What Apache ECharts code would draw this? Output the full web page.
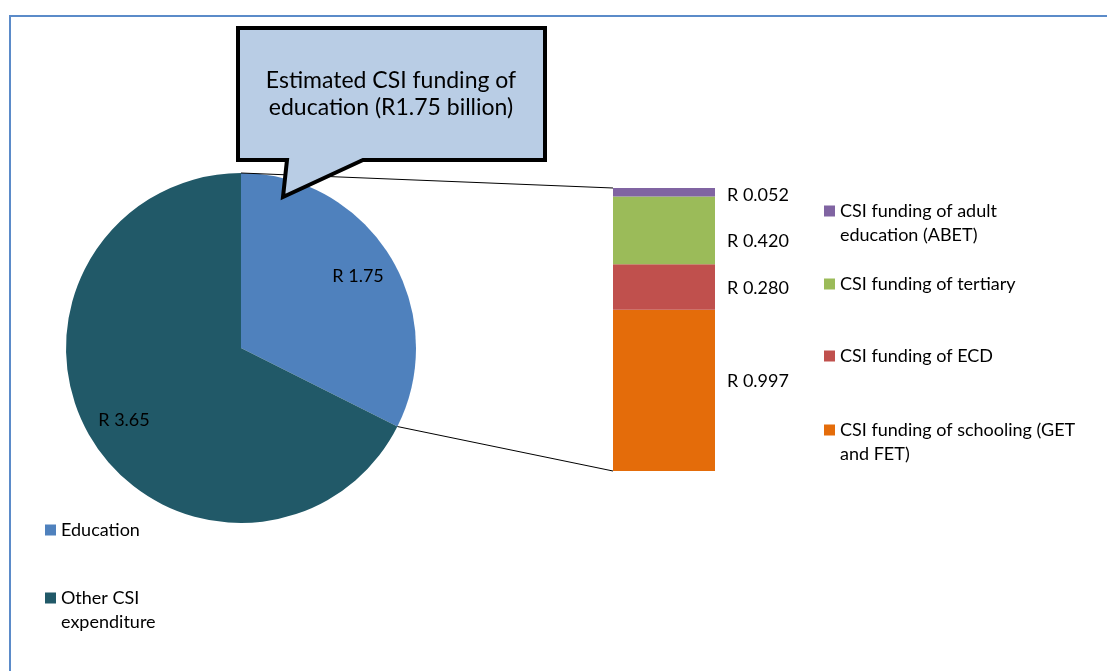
<!DOCTYPE html>
<html><head><meta charset="utf-8">
<script src="https://cdn.jsdelivr.net/npm/echarts@6/dist/echarts.min.js"></script>
<style>html,body{margin:0;padding:0;background:#fff}#c{width:1107px;height:671px}</style>
</head><body><div id="c"></div>
<script>
// ---- data ----
const pieNames = ['Education', 'Other CSI\nexpenditure'];
const pieValues = [1.75, 3.65];
const barCategory = ['Education'];
const barNames = ['CSI funding of schooling (GET\nand FET)', 'CSI funding of ECD', 'CSI funding of tertiary', 'CSI funding of adult\neducation (ABET)'];
const barValues = [0.997, 0.280, 0.420, 0.052];
const calloutLines = ['Estimated CSI funding of', 'education (R1.75 billion)'];

// ---- styles ----
const FONT = 'Lato';
const pieColors = ['#4f81bd', '#215968'];
const barColors = ['#e46c0a', '#c0504d', '#9bbb59', '#8064a2'];
const barLabelOffsets = [[0, -9], [0, 1], [0, 11], [0, 3]];
const PIE_C = [241, 348], PIE_R = 175;

const chart = echarts.init(document.getElementById('c'));

function legend(name, left, top) {
  const lines = name.split('\n').length;
  const two = lines > 1;
  return {
    data: [name], left: left, top: top, orient: 'vertical', padding: 0,
    itemWidth: 11, itemHeight: two ? 35 : 11,
    icon: two ? 'path://M0,0H11V11H0ZM0,35H11V35H0Z' : 'rect',
    itemStyle: { borderWidth: 0 },
    selectedMode: false,
    textStyle: { fontFamily: FONT, fontSize: 18, color: '#000', lineHeight: 24 }
  };
}

const total = barValues.reduce((a, b) => a + b, 0);

const option = {
  animation: false,
  textStyle: { fontFamily: FONT },
  legend: [
    legend(barNames[3], 824, 199),
    legend(barNames[2], 824, 272),
    legend(barNames[1], 824, 344),
    legend(barNames[0], 824, 418),
    legend(pieNames[0], 45, 518),
    legend(pieNames[1], 45, 586)
  ],
  grid: { left: 613, top: 188, width: 102, height: 283 },
  xAxis: { type: 'category', data: barCategory, show: false },
  yAxis: { type: 'value', min: 0, max: total, show: false, splitLine: { show: false } },
  series: [
    {
      type: 'pie', center: PIE_C, radius: PIE_R, startAngle: 90, clockwise: true,
      silent: true, label: { show: false }, labelLine: { show: false },
      emphasis: { disabled: true },
      data: pieNames.map((n, i) => ({ name: n, value: pieValues[i], itemStyle: { color: pieColors[i] } }))
    },
    {
      type: 'pie', center: PIE_C, radius: [94, PIE_R], startAngle: 90, clockwise: true,
      silent: true, emphasis: { disabled: true },
      itemStyle: { color: 'rgba(0,0,0,0)' },
      label: { show: true, position: 'inside', formatter: 'R {c}', fontFamily: FONT, fontSize: 18, color: '#000' },
      labelLine: { show: false },
      data: pieNames.map((n, i) => ({ name: n, value: pieValues[i] }))
    }
  ].concat(barNames.map((n, i) => ({
    type: 'bar', name: n, stack: 'edu', barWidth: '100%', silent: true,
    data: [barValues[i]],
    itemStyle: { color: barColors[i] },
    label: { show: true, position: 'right', distance: 12, offset: barLabelOffsets[i],
      formatter: p => 'R ' + p.value.toFixed(3), fontFamily: FONT, fontSize: 18, color: '#000' }
  })))
};
chart.setOption(option);

// connector lines computed from data and axes
const yTop = chart.convertToPixel({ yAxisIndex: 0 }, total);
const yBot = chart.convertToPixel({ yAxisIndex: 0 }, 0);
const xBar = chart.convertToPixel({ xAxisIndex: 0 }, 0) - 51;
const pieTotal = pieValues.reduce((a, b) => a + b, 0);
const endAng = (90 - 360 * pieValues[0] / pieTotal) * Math.PI / 180;
const p1 = [PIE_C[0], PIE_C[1] - PIE_R];
const p2 = [PIE_C[0] + PIE_R * Math.cos(endAng), PIE_C[1] - PIE_R * Math.sin(endAng)];

chart.setOption({
  graphic: [
    { type: 'rect', z: 1, shape: { x: 10, y: 16, width: 1300, height: 900 },
      style: { fill: 'none', stroke: '#5b8bc9', lineWidth: 2 } },
    { type: 'line', z: 50, shape: { x1: p1[0], y1: p1[1], x2: xBar, y2: yTop }, style: { stroke: '#000', lineWidth: 1 } },
    { type: 'line', z: 50, shape: { x1: p2[0], y1: p2[1], x2: xBar, y2: yBot }, style: { stroke: '#000', lineWidth: 1 } },
    { type: 'polygon', z: 100,
      shape: { points: [[238, 28], [545, 28], [545, 160], [363, 160], [283, 197], [287, 160], [238, 160]] },
      style: { fill: '#b9cde5', stroke: '#000', lineWidth: 4, lineJoin: 'miter' } },
    { type: 'text', z: 101, x: 391, y: 94,
      style: { text: calloutLines.join('\n'), font: '23px Lato', fill: '#000', lineHeight: 27,
        align: 'center', verticalAlign: 'middle', textAlign: 'center', textVerticalAlign: 'middle' } }
  ]
});
</script></body></html>
